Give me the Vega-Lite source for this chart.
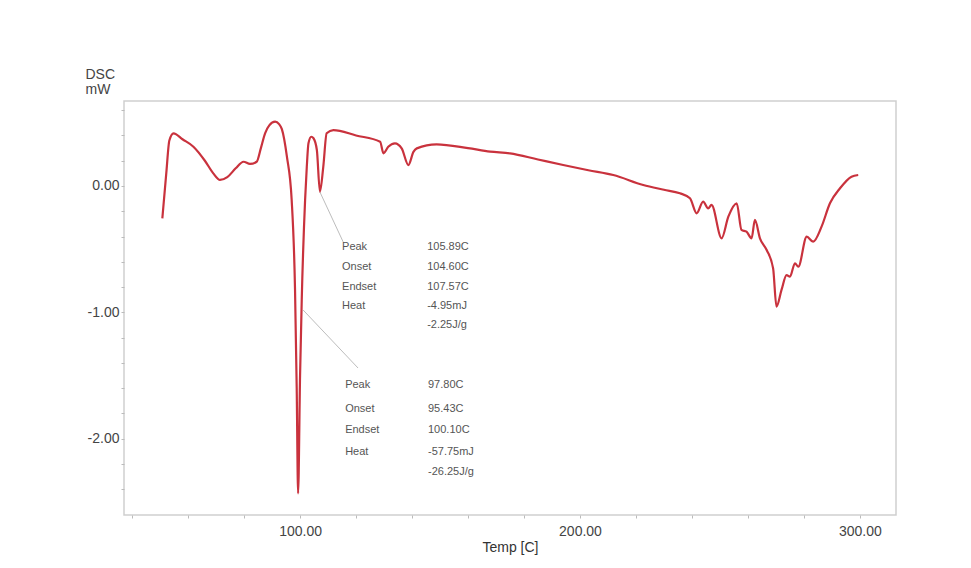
{
  "$schema": "https://vega.github.io/schema/vega-lite/v6.json",
  "width": 772,
  "height": 414,
  "autosize": {"type": "none"},
  "padding": {"left": 124, "top": 101, "right": 75, "bottom": 53},
  "background": "white",
  "config": {
    "view": {"stroke": "#cfcfcf", "strokeWidth": 1.5},
    "font": "Liberation Sans"
  },
  "datasets": {
    "curve": [
      {"t": 50.8, "dsc": -0.256}, {"t": 52.2, "dsc": 0.10}, {"t": 53.3, "dsc": 0.36}, {"t": 54.8, "dsc": 0.417},
      {"t": 58, "dsc": 0.37}, {"t": 61.9, "dsc": 0.311}, {"t": 66, "dsc": 0.20}, {"t": 69, "dsc": 0.10},
      {"t": 71.4, "dsc": 0.048}, {"t": 74, "dsc": 0.07}, {"t": 77, "dsc": 0.14}, {"t": 79.8, "dsc": 0.192},
      {"t": 82.1, "dsc": 0.175}, {"t": 84.5, "dsc": 0.192}, {"t": 86, "dsc": 0.30}, {"t": 87.5, "dsc": 0.417},
      {"t": 89, "dsc": 0.48}, {"t": 91.1, "dsc": 0.509}, {"t": 92.5, "dsc": 0.49}, {"t": 93.5, "dsc": 0.45},
      {"t": 95.3, "dsc": 0.232}, {"t": 97.0, "dsc": -0.11}, {"t": 98.2, "dsc": -0.82}, {"t": 98.8, "dsc": -1.6},
      {"t": 99.3, "dsc": -2.433}, {"t": 100.0, "dsc": -1.5}, {"t": 100.6, "dsc": -0.90}, {"t": 101.8, "dsc": -0.11},
      {"t": 102.4, "dsc": 0.15}, {"t": 103, "dsc": 0.338}, {"t": 104.0, "dsc": 0.39}, {"t": 104.8, "dsc": 0.378},
      {"t": 106, "dsc": 0.285}, {"t": 107.1, "dsc": -0.045}, {"t": 108.3, "dsc": 0.153}, {"t": 109.5, "dsc": 0.417},
      {"t": 111.9, "dsc": 0.443}, {"t": 120, "dsc": 0.40}, {"t": 128.6, "dsc": 0.351}, {"t": 129.8, "dsc": 0.259},
      {"t": 131.5, "dsc": 0.31}, {"t": 133.9, "dsc": 0.338}, {"t": 136.3, "dsc": 0.298}, {"t": 138.7, "dsc": 0.166},
      {"t": 140.5, "dsc": 0.27}, {"t": 141.7, "dsc": 0.298}, {"t": 148.8, "dsc": 0.33}, {"t": 160, "dsc": 0.30},
      {"t": 167.9, "dsc": 0.272}, {"t": 175, "dsc": 0.259}, {"t": 185, "dsc": 0.21}, {"t": 194, "dsc": 0.166},
      {"t": 203, "dsc": 0.125}, {"t": 211.9, "dsc": 0.087}, {"t": 222.6, "dsc": 0.008}, {"t": 230, "dsc": -0.03},
      {"t": 235.7, "dsc": -0.058}, {"t": 239.3, "dsc": -0.097}, {"t": 241.7, "dsc": -0.216}, {"t": 244, "dsc": -0.124},
      {"t": 245.8, "dsc": -0.177}, {"t": 247, "dsc": -0.150}, {"t": 250.6, "dsc": -0.414}, {"t": 253, "dsc": -0.243},
      {"t": 256, "dsc": -0.137}, {"t": 257.7, "dsc": -0.348}, {"t": 259.5, "dsc": -0.362}, {"t": 261.3, "dsc": -0.414},
      {"t": 262.5, "dsc": -0.269}, {"t": 264.3, "dsc": -0.414}, {"t": 266.7, "dsc": -0.507}, {"t": 269, "dsc": -0.652},
      {"t": 270.2, "dsc": -0.955}, {"t": 272, "dsc": -0.823}, {"t": 273.8, "dsc": -0.705}, {"t": 275, "dsc": -0.718},
      {"t": 276.8, "dsc": -0.612}, {"t": 278, "dsc": -0.639}, {"t": 281, "dsc": -0.401}, {"t": 283.3, "dsc": -0.441},
      {"t": 286.3, "dsc": -0.322}, {"t": 289.3, "dsc": -0.137}, {"t": 292.9, "dsc": -0.018}, {"t": 297.0, "dsc": 0.074},
      {"t": 299.4, "dsc": 0.087}
    ],
    "leaders": [
      {"t": 107.1, "dsc": -0.048, "t2": 115.4, "dsc2": -0.443},
      {"t": 101.1, "dsc": -0.982, "t2": 120.7, "dsc2": -1.441}
    ],
    "notes": [
      {"t": 115.0, "dsc": -0.48, "label": "Peak"},
      {"t": 115.0, "dsc": -0.64, "label": "Onset"},
      {"t": 115.0, "dsc": -0.80, "label": "Endset"},
      {"t": 115.0, "dsc": -0.95, "label": "Heat"},
      {"t": 145.4, "dsc": -0.48, "label": "105.89C"},
      {"t": 145.4, "dsc": -0.64, "label": "104.60C"},
      {"t": 145.4, "dsc": -0.80, "label": "107.57C"},
      {"t": 145.4, "dsc": -0.95, "label": "-4.95mJ"},
      {"t": 145.4, "dsc": -1.10, "label": "-2.25J/g"},
      {"t": 116.1, "dsc": -1.576, "label": "Peak"},
      {"t": 116.1, "dsc": -1.766, "label": "Onset"},
      {"t": 116.1, "dsc": -1.932, "label": "Endset"},
      {"t": 116.1, "dsc": -2.106, "label": "Heat"},
      {"t": 145.7, "dsc": -1.576, "label": "97.80C"},
      {"t": 145.7, "dsc": -1.766, "label": "95.43C"},
      {"t": 145.7, "dsc": -1.932, "label": "100.10C"},
      {"t": 145.7, "dsc": -2.106, "label": "-57.75mJ"},
      {"t": 145.7, "dsc": -2.264, "label": "-26.25J/g"}
    ]
  },
  "layer": [
    {
      "data": {"name": "leaders"},
      "mark": {"type": "rule", "color": "#bdbdbd", "strokeWidth": 1},
      "encoding": {
        "x": {"field": "t", "type": "quantitative"},
        "y": {"field": "dsc", "type": "quantitative"},
        "x2": {"field": "t2"},
        "y2": {"field": "dsc2"}
      }
    },
    {
      "data": {"name": "curve"},
      "mark": {"type": "line", "color": "#c9323d", "strokeWidth": 2.2, "interpolate": "monotone"},
      "encoding": {
        "x": {
          "field": "t", "type": "quantitative",
          "scale": {"domain": [37.1, 312.9], "nice": false, "zero": false},
          "axis": {
            "title": "Temp [C]",
            "values": [40, 60, 80, 100, 120, 140, 160, 180, 200, 220, 240, 260, 280, 300],
            "tickCount": 30,
            "labelExpr": "datum.value % 100 === 0 ? format(datum.value, '.2f') : ''",
            "labelOverlap": false,
            "grid": false, "domain": false,
            "tickColor": "#bbbbbb", "tickSize": 3,
            "labelFontSize": 14, "labelColor": "#444444", "labelPadding": 6,
            "titleFontSize": 14, "titleFontWeight": "normal", "titleColor": "#333333", "titlePadding": 2
          }
        },
        "y": {
          "field": "dsc", "type": "quantitative",
          "scale": {"domain": [-2.605, 0.673], "nice": false, "zero": false},
          "axis": {
            "title": ["DSC", "mW"],
            "values": [-2.4, -2.2, -2, -1.8, -1.6, -1.4, -1.2, -1, -0.8, -0.6, -0.4, -0.2, 0, 0.2, 0.4, 0.6],
            "tickCount": 30,
            "labelExpr": "abs(datum.value - round(datum.value)) < 0.001 ? (datum.value < -0.5 ? '-' + format(abs(datum.value), '.2f') : '0.00') : ''",
            "labelOverlap": false,
            "grid": false, "domain": false,
            "tickColor": "#bbbbbb", "tickSize": 3,
            "labelFontSize": 14, "labelColor": "#444444", "labelPadding": 2,
            "titleAngle": 0, "titleAlign": "left", "titleBaseline": "alphabetic",
            "titleX": -39, "titleY": -23, "titleLineHeight": 15,
            "titleFontSize": 14, "titleFontWeight": "normal", "titleColor": "#444444"
          }
        }
      }
    },
    {
      "data": {"name": "notes"},
      "mark": {"type": "text", "align": "left", "baseline": "middle", "fontSize": 11, "color": "#555555"},
      "encoding": {
        "x": {"field": "t", "type": "quantitative"},
        "y": {"field": "dsc", "type": "quantitative"},
        "text": {"field": "label"}
      }
    }
  ]
}
